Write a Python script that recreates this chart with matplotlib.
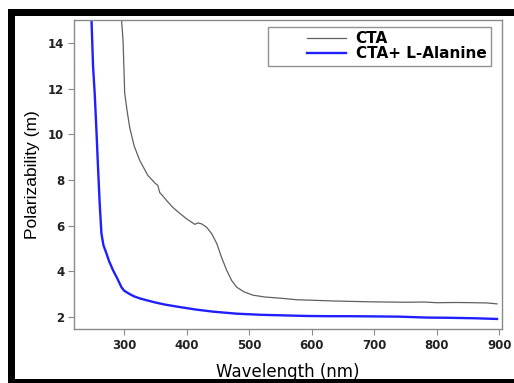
import matplotlib
matplotlib.use("Agg")
import matplotlib.pyplot as plt
from matplotlib.patches import Rectangle
from matplotlib.legend_handler import HandlerLine2D
from matplotlib.lines import Line2D

# CTA (gray curve)
cta_wl = [295.5, 296, 298.4, 301, 305, 309, 316, 325, 338, 350, 354, 357, 362, 368,
          378, 389, 400, 413, 418, 424, 432, 440, 448, 456, 464, 472, 480, 492,
          506, 525, 549, 576, 600, 629, 660, 693, 720, 750, 780, 800, 830, 860, 880, 896]
cta_val = [15.5, 15.0, 14.1, 11.8, 11.0, 10.3, 9.5, 8.86, 8.2, 7.85, 7.76, 7.45, 7.3, 7.1,
           6.8, 6.54, 6.3, 6.06, 6.12, 6.08, 5.93, 5.65, 5.23, 4.6, 4.05, 3.6, 3.31, 3.1,
           2.96, 2.88, 2.83, 2.76, 2.74, 2.71, 2.69, 2.67, 2.66, 2.65, 2.66, 2.63, 2.64, 2.63, 2.62, 2.58]

# CTA + L-Alanine (blue curve)
ala_wl = [247.5, 248, 250.4, 253.1, 255.8, 258.4, 261, 263.8, 267, 271.8, 276, 282.4, 289,
          295.8, 300, 306.4, 315, 325, 335.8, 350, 365, 389, 415, 442, 480, 520, 549,
          592, 629, 660, 704, 740, 784, 820, 860, 896]
ala_val = [15.5, 15.0, 13.0, 11.78, 10.2, 8.55, 7.0, 5.67, 5.15, 4.79, 4.45, 4.05, 3.7,
           3.31, 3.16, 3.05, 2.92, 2.82, 2.74, 2.64, 2.55, 2.44, 2.33, 2.24, 2.15, 2.1, 2.08,
           2.05, 2.04, 2.04, 2.03, 2.02, 1.98, 1.97, 1.95, 1.92]

series_labels = ["CTA", "CTA+ L-Alanine"]
x_ticks = [300, 400, 500, 600, 700, 800, 900]
y_ticks = [2, 4, 6, 8, 10, 12, 14]

plt.rcParams['font.family'] = ['Liberation Sans', 'DejaVu Sans']


class ShortHandle(HandlerLine2D):
    """Legend line drawn only over the right part of the handle box."""
    def create_artists(self, legend, orig_handle, xdescent, ydescent, width, height,
                       fontsize, trans):
        artists = super().create_artists(legend, orig_handle, xdescent, ydescent, width,
                                         height, fontsize, trans)
        for a in artists:
            if isinstance(a, Line2D):
                xd = list(a.get_xdata())
                yd = list(a.get_ydata())
                if len(xd) >= 2:
                    x0, x1 = xd[0], xd[-1]
                    a.set_data([x0 + 0.47 * (x1 - x0), x1], [yd[0], yd[-1]])
        return artists


W, H = 514, 383
fig = plt.figure(figsize=(W / 100, H / 100), dpi=100)
fig.patch.set_facecolor('white')

# black frame of the screenshot
frame_kw = dict(transform=fig.transFigure, facecolor='black', edgecolor='none', zorder=0)
fig.patches.append(Rectangle((8 / W, 0), 7 / W, 1 - 9 / H, **frame_kw))
fig.patches.append(Rectangle((8 / W, 1 - 16 / H), 1, 7 / H, **frame_kw))
fig.patches.append(Rectangle((8 / W, 0), 1, 4 / H, **frame_kw))

ax = fig.add_axes([74 / W, 1 - 329 / H, (502 - 74) / W, (329 - 20) / H])
l1, = ax.plot(cta_wl, cta_val, color='#606060', lw=0.9, label=series_labels[0])
l2, = ax.plot(ala_wl, ala_val, color='#1f1fff', lw=1.7, label=series_labels[1])

ax.set_xlim(220, 904)
ax.set_ylim(1.48, 15.0)
ax.set_xticks(x_ticks)
ax.set_yticks(y_ticks)
for s in ax.spines.values():
    s.set_color('#8a8a8a')
    s.set_linewidth(1.0)
ax.tick_params(axis='both', direction='out', length=4, width=0.8, color='#8a8a8a', pad=3)
for lbl in ax.get_xticklabels() + ax.get_yticklabels():
    lbl.set_fontfamily('DejaVu Sans')
    lbl.set_fontweight('bold')
    lbl.set_fontsize(8.5)
    lbl.set_color('#222222')

ax.set_xlabel('Wavelength (nm)', fontsize=12, family='DejaVu Sans', labelpad=8)
ax.set_ylabel('Polarizability (m)', fontsize=12.5, labelpad=6)

leg = ax.legend(loc='upper right', bbox_to_anchor=(0.974, 0.978), fancybox=False,
                prop={'family': 'DejaVu Sans', 'weight': 'bold', 'size': 11},
                handlelength=4.85, handletextpad=0.6, borderpad=0.3,
                labelspacing=0.0, borderaxespad=0.0,
                handler_map={Line2D: ShortHandle()})
leg.get_frame().set_edgecolor('#777777')
leg.get_frame().set_linewidth(1.0)

fig.savefig('out.png', dpi=100)
